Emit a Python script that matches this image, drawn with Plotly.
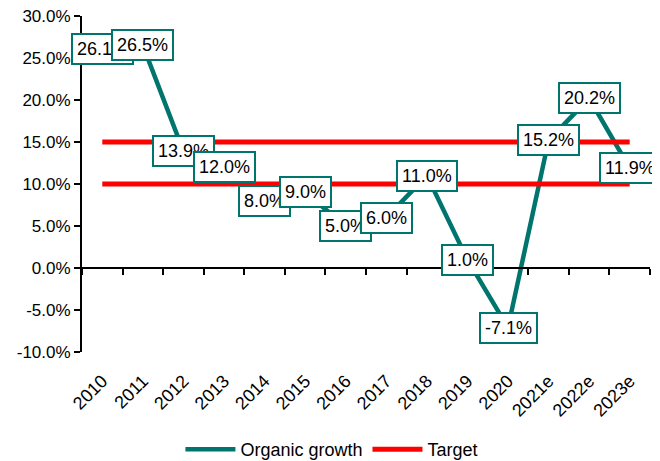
import plotly.graph_objects as go

# chart data
years = ["2010", "2011", "2012", "2013", "2014", "2015", "2016",
         "2017", "2018", "2019", "2020", "2021e", "2022e", "2023e"]
organic_growth = [26.1, 26.5, 13.9, 12.0, 8.0, 9.0, 5.0,
                  6.0, 11.0, 1.0, -7.1, 15.2, 20.2, 11.9]
target_low = [10.0] * len(years)
target_high = [15.0] * len(years)
y_ticks = [-10, -5, 0, 5, 10, 15, 20, 25, 30]
y_tick_labels = ["-10.0%", "-5.0%", "0.0%", "5.0%", "10.0%",
                 "15.0%", "20.0%", "25.0%", "30.0%"]

TEAL = "#00756E"
RED = "#FF0000"
FONT = "Liberation Sans, Arial, sans-serif"

fig = go.Figure()

fig.add_trace(go.Scatter(
    x=years, y=organic_growth, name="Organic growth", mode="lines",
    line=dict(color=TEAL, width=4.5),
))
fig.add_trace(go.Scatter(
    x=years, y=target_high, name="Target", mode="lines", legendgroup="t",
    line=dict(color=RED, width=5), xaxis="x2",
))
fig.add_trace(go.Scatter(
    x=years, y=target_low, name="Target", mode="lines", legendgroup="t",
    showlegend=False, line=dict(color=RED, width=5), xaxis="x2",
))

# boxed data labels (x given as category index so "2010" isn't read as a number)
for i, v in enumerate(organic_growth):
    fig.add_annotation(
        x=i, y=v, xref="x", yref="y", text=f"{v:.1f}%", showarrow=False,
        font=dict(family=FONT, size=18, color="#000000"),
        bgcolor="white", bordercolor=TEAL, borderwidth=2, borderpad=4,
        xanchor="center", yanchor="middle",
    )

# page body adds an 8px margin, so margins are trimmed to compensate
fig.update_layout(
    width=660, height=461,
    margin=dict(l=74, r=18, t=8, b=117, autoexpand=False),
    paper_bgcolor="white", plot_bgcolor="white",
    font=dict(family=FONT, size=17, color="#000000"),
    showlegend=True,
    legend=dict(orientation="h", x=0.44, xanchor="center",
                y=-0.29, yanchor="middle", font=dict(size=18), itemwidth=50),
    xaxis=dict(
        type="category", categoryarray=years, range=[-0.5, 13.5],
        showline=False, ticks="", showgrid=False, zeroline=False,
        tickangle=-45, tickfont=dict(size=18), ticklabelstandoff=14,
    ),
    xaxis2=dict(
        type="category", categoryarray=years, range=[-0.5, 13.5],
        overlaying="x", anchor="free", position=0.25,
        showline=True, linecolor="black", linewidth=2,
        ticks="outside", tickson="boundaries", ticklen=6, tickwidth=2,
        tickcolor="black", showticklabels=False, showgrid=False,
    ),
    yaxis=dict(
        range=[-10, 30], tickvals=y_ticks, ticktext=y_tick_labels,
        showline=True, linecolor="black", linewidth=2,
        ticks="outside", ticklen=6, tickwidth=2, tickcolor="black",
        showgrid=False, zeroline=False, tickfont=dict(size=17),
        ticklabeloverflow="allow",
    ),
)

fig.write_html("out.html")
